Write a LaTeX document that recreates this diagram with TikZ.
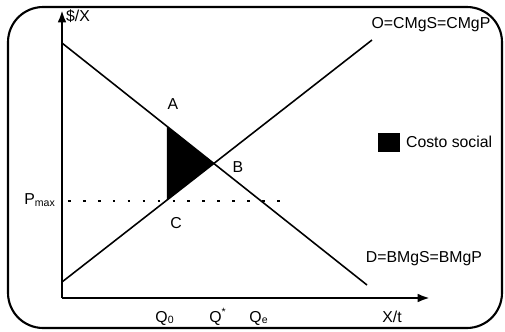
\documentclass[tikz,border=0pt]{standalone}
\usepackage{fontspec}
\setmainfont{Liberation Sans}
\usetikzlibrary{arrows.meta, positioning}
\tikzset{
  axis/.style={line width=1.4pt, -{Latex[length=7pt, width=5pt]}},
  curve/.style={line width=0.9pt},
  lbl/.style={font=\fontsize{9}{10}\selectfont, inner sep=1pt},
  frame/.style={line width=1.2pt, rounded corners=20pt}
}

\begin{document}
\begin{tikzpicture}[x=0.02cm, y=-0.02cm]
  \useasboundingbox (0,0) rectangle (505,332);
  % Frame
  \draw[frame] (8,7) rectangle (502,328);

  % Axes
  \coordinate (orig) at (62,298);
  \coordinate (ytip) at (62,10);
  \coordinate (xtip) at (430,298);
  \draw[axis] (orig) -- (ytip);
  \draw[axis] (orig) -- (xtip);
  \node[lbl, anchor=west] (ylab) at (64,16) {\$/X};
  \node[lbl] (xlab) at (392,317) {X/t};

  % Supply and demand
  \coordinate (dtop) at (62,43);
  \coordinate (dend) at (367,285);
  \coordinate (sbot) at (62,282);
  \coordinate (send) at (372,40);
  \draw[curve] (dtop) -- (dend);
  \draw[curve] (sbot) -- (send);
  \node[lbl] (olab) at (431,25) {O=CMgS=CMgP};
  \node[lbl] (dlab) at (424,259) {D=BMgS=BMgP};

  % Social cost triangle
  \coordinate (A) at (167,126.3);
  \coordinate (B) at (214,163.5);
  \coordinate (C) at (167,200.1);
  \fill (A) -- (B) -- (C) -- cycle;
  \node[lbl] (alab) at (173,104) {A};
  \node[lbl] (blab) at (238,167) {B};
  \node[lbl] (clab) at (176,223) {C};

  % Price ceiling
  \draw[line width=0.9pt, dash pattern=on 1.5pt off 7pt] (68,201) -- (288,201);
  \node[lbl] (pmax) at (40,200) {P\textsubscript{max}};

  % Quantities
  \node[lbl] (q0) at (165,318) {Q\textsubscript{0}};
  \node[lbl] (qs) at (218,317) {Q\textsuperscript{*}};
  \node[lbl] (qe) at (259,318) {Q\textsubscript{e}};

  % Legend
  \fill (378,133) rectangle (400,152);
  \node[lbl, anchor=west] (leg) at (404,142) {Costo social};
\end{tikzpicture}
\end{document}
